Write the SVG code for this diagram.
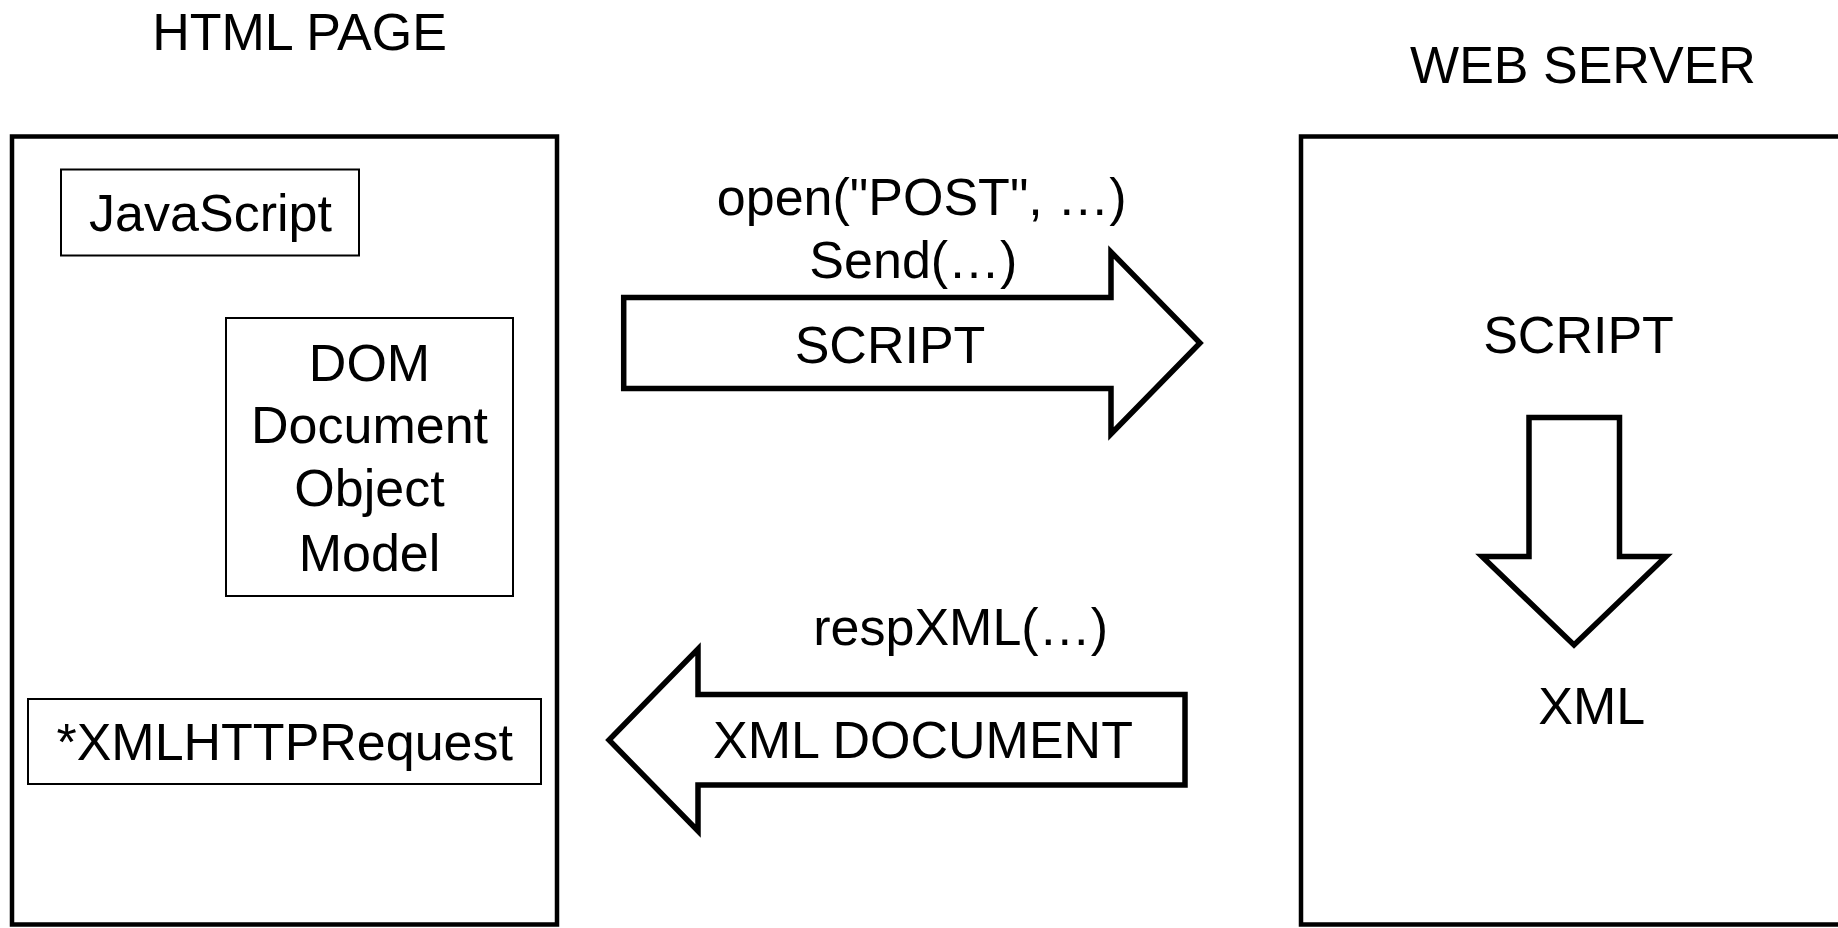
<svg xmlns="http://www.w3.org/2000/svg" width="1838" height="928" viewBox="0 0 1838 928">
<style>
text{font-family:"Liberation Sans",Arial,sans-serif;font-size:52px;fill:#000;text-anchor:middle}
.outer{fill:none;stroke:#000;stroke-width:4.5}
.inner{fill:#fff;stroke:#000;stroke-width:2}
.big{fill:#fff;stroke:#000;stroke-width:5.5;stroke-linejoin:miter}
</style>
<rect width="1838" height="928" fill="#fff"/>
<g id="html-page">
<text x="299.5" y="50">HTML PAGE</text>
<rect class="outer" x="12" y="136.5" width="545" height="788"/>
</g>
<g id="javascript">
<rect class="inner" x="61" y="169.5" width="298" height="86"/>
<text x="210.5" y="231">JavaScript</text>
</g>
<g id="dom">
<rect class="inner" x="226" y="318" width="287" height="278"/>
<text x="369.5" y="381">DOM</text>
<text x="369.5" y="443">Document</text>
<text x="369.5" y="506">Object</text>
<text x="369.5" y="571">Model</text>
</g>
<g id="xhr">
<rect class="inner" x="28" y="699" width="513" height="85"/>
<text x="284.7" y="760">*XMLHTTPRequest</text>
</g>
<g id="web-server">
<text x="1583" y="83">WEB SERVER</text>
<rect class="outer" x="1301" y="136.5" width="600" height="788"/>
<text x="1578.5" y="353">SCRIPT</text>
<text x="1591.7" y="724">XML</text>
</g>
<g id="connectors">
<polygon class="big" points="623.7,297.5 1111,297.5 1111,252 1200,343 1111,434 1111,388.5 623.7,388.5"/>
<text x="921.7" y="215">open("POST", …)</text>
<text x="913.4" y="278">Send(…)</text>
<text x="890" y="363">SCRIPT</text>
<polygon class="big" points="1185,694.5 698,694.5 698,649 609,740 698,831 698,785 1185,785"/>
<text x="960.6" y="645">respXML(…)</text>
<text x="923" y="758">XML DOCUMENT</text>
<polygon class="big" points="1529,417.5 1619.5,417.5 1619.5,556.5 1666,556.5 1574,645 1482,556.5 1529,556.5"/>
</g>
</svg>
